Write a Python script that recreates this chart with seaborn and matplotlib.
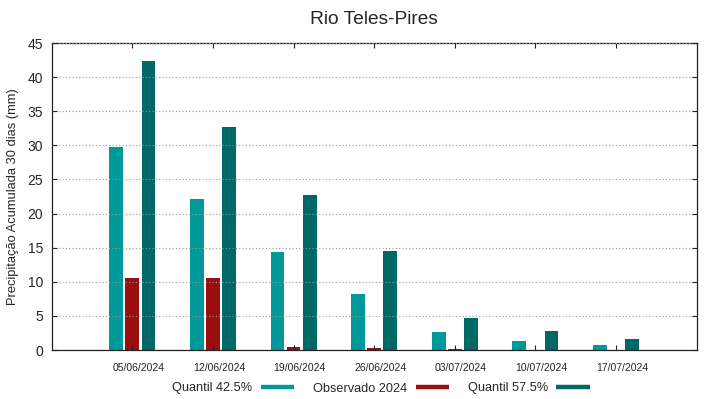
import pandas as pd
import seaborn as sns
import matplotlib
matplotlib.use("Agg")
import matplotlib.pyplot as plt
import matplotlib.transforms as mtransforms
from matplotlib.lines import Line2D

datas = ["05/06/2024", "12/06/2024", "19/06/2024", "26/06/2024",
         "03/07/2024", "10/07/2024", "17/07/2024"]
quantil_425 = [29.7, 22.2, 14.3, 8.2, 2.7, 1.25, 0.75]
observado_2024 = [10.6, 10.5, 0.5, 0.3, 0.2, 0.0, 0.0]
quantil_575 = [42.4, 32.7, 22.8, 14.5, 4.7, 2.8, 1.6]
series = ["Quantil 42.5%", "Observado 2024", "Quantil 57.5%"]
cores = ["#009999", "#990e0e", "#006866"]

df = pd.DataFrame({
    "data": datas * 3,
    "valor": quantil_425 + observado_2024 + quantil_575,
    "serie": [series[0]] * 7 + [series[1]] * 7 + [series[2]] * 7,
})

sns.set_style("white")
plt.rcParams["font.family"] = ["Liberation Sans", "DejaVu Sans"]

fig = plt.figure(figsize=(7.19, 3.99), dpi=100)
ax = fig.add_axes([0.0719, 0.1228, 0.8971, 0.7692])

sns.barplot(data=df, x="data", y="valor", hue="serie", hue_order=series,
            palette=cores, width=0.6, gap=0.15, saturation=1, linewidth=0,
            legend=False, ax=ax)

ax.set_xlim(-1, 7)
ax.set_ylim(0, 45)
ax.set_yticks(range(0, 50, 5))
ax.set_xlabel("")
ax.set_ylabel("Precipitação Acumulada 30 dias (mm)", fontsize=9.3, labelpad=6)
ax.set_title("Rio Teles-Pires", fontsize=13.8, pad=14)

for s in ax.spines.values():
    s.set_visible(True)
    s.set_color("#222222")
    s.set_linewidth(0.9)

ax.yaxis.grid(True, linestyle=(0, (1, 2)), color="#999999", linewidth=0.8)
ax.set_axisbelow(False)
ax.tick_params(axis="y", which="major", direction="in", length=3.5, width=0.8,
               color="#222222", left=True, right=True, labelsize=10, pad=6)
ax.tick_params(axis="x", which="major", direction="in", length=3.5, width=0.8,
               color="#222222", bottom=True, top=True, labelsize=7.5, pad=9)

# rotulos do eixo x ficam um pouco a direita do tick, como no original
desloc = mtransforms.ScaledTranslation(6 / 100, 0, fig.dpi_scale_trans)
for lab in ax.get_xticklabels():
    lab.set_transform(lab.get_transform() + desloc)

alcas = [Line2D([0], [0], color=c, lw=3.2, solid_capstyle="butt") for c in cores]
fig.legend(alcas, series, loc="center", bbox_to_anchor=(381 / 719, 1 - 388.5 / 399),
           ncol=3, frameon=False, markerfirst=False, fontsize=9.2,
           handlelength=2.6, handletextpad=0.65, columnspacing=1.5)

fig.savefig("out.png", dpi=100)
